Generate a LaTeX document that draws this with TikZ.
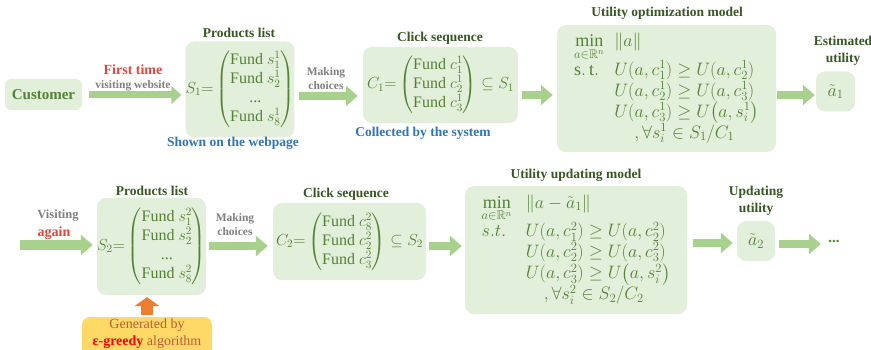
\RequirePackage{fix-cm}
\documentclass[tikz,border=0pt]{standalone}
\usepackage{amsmath, amssymb}
\usepackage{fontspec}
\setmainfont{Liberation Serif}
\usetikzlibrary{arrows.meta}

\definecolor{boxgreen}{HTML}{E2EFDA}
\definecolor{textgreen}{HTML}{548235}
\definecolor{titlegreen}{HTML}{385723}
\definecolor{arrowgreen}{HTML}{A9D18E}
\definecolor{labelred}{HTML}{E0463A}
\definecolor{labelblue}{HTML}{2E75B6}
\definecolor{labelgray}{HTML}{7F7F7F}
\definecolor{genorange}{HTML}{ED7D31}
\definecolor{genyellow}{HTML}{FFD966}
\definecolor{genbrown}{HTML}{BF5B3A}

\tikzset{
  box/.style={fill=boxgreen, rounded corners=9pt, text=textgreen, inner sep=0pt,
    font=\fontsize{16}{19}\selectfont},
  modelbox/.style={box, font=\fontsize{18}{20}\selectfont},
  title/.style={text=titlegreen, align=center, font=\bfseries\fontsize{13.5}{17}\selectfont},
  note/.style={text=labelblue, font=\bfseries\fontsize{13.5}{16}\selectfont},
  graylabel/.style={text=labelgray, align=center, font=\bfseries\fontsize{11.5}{14}\selectfont},
  redlabel/.style={text=labelred, font=\bfseries\fontsize{14}{16}\selectfont},
  flow/.style={draw=arrowgreen, line width=8pt, -{Triangle[width=20pt,length=12pt]}},
  genarrow/.style={draw=genorange, line width=12pt, -{Triangle[width=25pt,length=9pt]}}
}

\begin{document}
\begin{tikzpicture}[x=1pt, y=-1pt]
  \useasboundingbox (0,0) rectangle (871,350);

  % Titles
  \node[title] (t1) at (239,33) {Products list};
  \node[title] (t2) at (440,38) {Click sequence};
  \node[title] (t3) at (667,13) {Utility optimization model};
  \node[title] (t4) at (843,51) {Estimated\\utility};
  \node[title] (t5) at (152,191) {Products list};
  \node[title] (t6) at (346,194) {Click sequence};
  \node[title] (t7) at (576,175) {Utility updating model};
  \node[title] (t8) at (756,201) {Updating\\utility};

  % First visit
  \node[box, minimum width=77, minimum height=31, font=\bfseries\fontsize{15}{18}\selectfont,
    rounded corners=6pt] (cust) at (43.5,94.5) {Customer};
  \node[box, minimum width=107, minimum height=96] (s1) at (240,89.5)
    {$S_1{=}\begin{pmatrix}\text{Fund }s_1^1\\ \text{Fund }s_2^1\\ \text{...}\\ \text{Fund }s_8^1\end{pmatrix}$};
  \node[box, minimum width=155, minimum height=76] (c1) at (440.5,85)
    {$C_1{=}\begin{pmatrix}\text{Fund }c_1^1\\ \text{Fund }c_2^1\\ \text{Fund }c_3^1\end{pmatrix}\subseteq S_1$};
  \node[modelbox, minimum width=219, minimum height=127] (opt) at (666.5,88.5)
    {$\begin{array}{@{}l@{\hspace{10pt}}l@{}}
      \min\limits_{a\in\mathbb{R}^n} & \|a\|\\
      \mathrm{s.\,t.} & U(a,c_1^1)\ge U(a,c_2^1)\\
       & U(a,c_2^1)\ge U(a,c_3^1)\\
       & U(a,c_3^1)\ge U\big(a,s_i^1\big)\\
       & \hspace{20pt},\forall s_i^1\in S_1/C_1
    \end{array}$};
  \node[box, minimum width=39, minimum height=40, font=\fontsize{18}{20}\selectfont] (est) at (835.5,91.5) {$\tilde{a}_1$};

  % Second visit
  \coordinate (start) at (20,245);
  \node[box, minimum width=109, minimum height=97] (s2) at (151.5,246.5)
    {$S_2{=}\begin{pmatrix}\text{Fund }s_1^2\\ \text{Fund }s_2^2\\ \text{...}\\ \text{Fund }s_8^2\end{pmatrix}$};
  \node[box, minimum width=153, minimum height=77] (c2) at (349.5,241.5)
    {$C_2{=}\begin{pmatrix}\text{Fund }c_8^2\\ \text{Fund }c_2^2\\ \text{Fund }c_3^2\end{pmatrix}\subseteq S_2$};
  \node[modelbox, minimum width=222, minimum height=128] (upd) at (576,250)
    {$\begin{array}{@{}l@{\hspace{14pt}}l@{}}
      \min\limits_{a\in\mathbb{R}^n} & \|a-\tilde{a}_1\|\\[2pt]
      s.t. & U(a,c_1^2)\ge U(a,c_2^2)\\
       & U(a,c_2^2)\ge U(a,c_3^2)\\
       & U(a,c_3^2)\ge U\big(a,s_i^2\big)\\
       & \hspace{18pt},\forall s_i^2\in S_2/C_2
    \end{array}$};
  \node[box, minimum width=38, minimum height=40, font=\fontsize{18}{20}\selectfont] (upu) at (756,241) {$\tilde{a}_2$};
  \node[text=textgreen, font=\bfseries\fontsize{15}{18}\selectfont] (dots) at (834,241) {...};

  % Generator
  \fill[genyellow, rounded corners=8pt] (82,317) rectangle (212,365);
  \node[text=genbrown, align=center, font=\fontsize{14}{17}\selectfont] (gen) at (147,334)
    {Generated by\\ \textcolor{red}{\textbf{ε-greedy}} algorithm};

  % Arrow labels
  \node[redlabel] (first) at (133,70) {First time};
  \node[graylabel] (visit) at (133,86) {visiting website};
  \node[graylabel] (make1) at (326,79) {Making\\choices};
  \node[graylabel, font=\bfseries\fontsize{12.5}{14}\selectfont] (visit2) at (58,216) {Visiting};
  \node[redlabel] (again) at (54,233) {again};
  \node[graylabel] (make2) at (235,225) {Making\\choices};
  \node[note] (shown) at (233,143) {Shown on the webpage};
  \node[note] (coll) at (423,133) {Collected by the system};

  % Edges
  \draw[flow, line width=7pt, -{Triangle[width=18pt,length=10pt]}, shorten <=7pt, shorten >=4pt]
    (cust.east |- 0,95) -- (s1.west |- 0,95);
  \draw[flow, shorten <=4pt, shorten >=5pt] (s1.east |- 0,96) -- (c1.west |- 0,96);
  \draw[flow, shorten <=4pt, shorten >=4pt] (c1.east |- 0,95) -- (opt.west |- 0,95);
  \draw[flow, shorten <=1pt, shorten >=1pt] (opt.east |- 0,95) -- (est.west |- 0,95);
  \draw[flow, line width=9pt, shorten >=4pt] (start) -- (s2.west |- start);
  \draw[flow, shorten <=3pt, shorten >=5pt] (s2.east |- 0,246) -- (c2.west |- 0,246);
  \draw[flow, shorten <=3pt, shorten >=3pt] (c2.east |- 0,246) -- (upd.west |- 0,246);
  \draw[flow, shorten <=6pt, shorten >=4pt] (upd.east |- 0,243) -- (upu.west |- 0,243);
  \draw[flow, shorten <=4pt, shorten >=4pt] (upu.east |- 0,244) -- (dots.west |- 0,244);
  \draw[genarrow, shorten <=1pt, shorten >=2pt] (gen.north |- 0,316) -- (gen.north |- s2.south);
\end{tikzpicture}
\end{document}
